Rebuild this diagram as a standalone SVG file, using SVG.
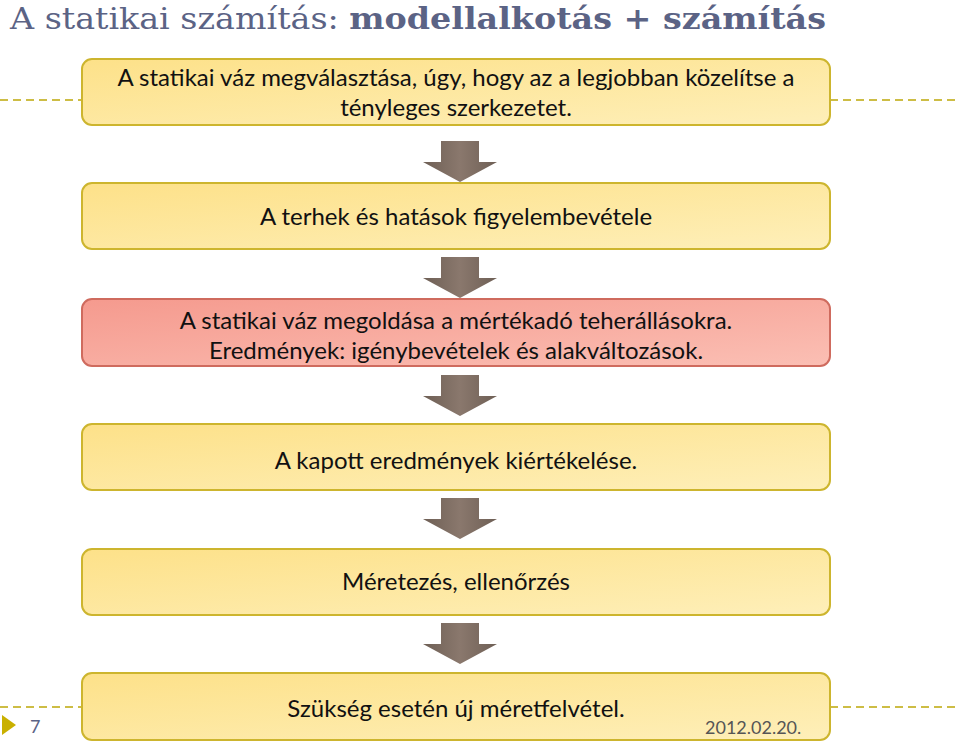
<svg xmlns="http://www.w3.org/2000/svg" width="960" height="744" viewBox="0 0 960 744">
<defs>
<linearGradient id="gy" x1="0" y1="0" x2="1" y2="1">
<stop offset="0" stop-color="#fde189"/>
<stop offset="1" stop-color="#feefb9"/>
</linearGradient>
<linearGradient id="gr" x1="0" y1="0" x2="1" y2="1">
<stop offset="0" stop-color="#f59a8e"/>
<stop offset="1" stop-color="#fbbfb4"/>
</linearGradient>
<linearGradient id="ga" x1="0" y1="0" x2="1" y2="0">
<stop offset="0" stop-color="#6e5f55"/>
<stop offset="0.5" stop-color="#8a786d"/>
<stop offset="1" stop-color="#6e5f55"/>
</linearGradient>
<path id="arrow" d="M-19,0 H19 V21 H37 L0,41 L-37,21 H-19 Z"/>
</defs>
<style>
.yb{fill:url(#gy);stroke:#cdb52e;stroke-width:2}
.rb{fill:url(#gr);stroke:#cf6b5e;stroke-width:2}
.t{font-family:"Gill Sans","Lato","Open Sans","Liberation Sans",sans-serif;font-size:24px;fill:#111;text-anchor:middle}
.dash{stroke:#cdbd45;stroke-width:2;stroke-dasharray:8 5;fill:none}
.ar{fill:url(#ga)}
</style>
<rect width="960" height="744" fill="#fff"/>
<text x="10" y="29" font-family="'DejaVu Serif','Liberation Serif',serif" font-size="29" fill="#5b6385" textLength="816" lengthAdjust="spacingAndGlyphs">A statikai számítás: <tspan font-weight="bold">modellalkotás + számítás</tspan></text>
<g id="dashes">
<path class="dash" d="M0,100 H82 M830,100 H960 M0,707 H82 M830,707 H960"/>
</g>
<g id="connectors">
<use class="ar" href="#arrow" x="460" y="141"/>
<use class="ar" href="#arrow" x="460" y="257"/>
<use class="ar" href="#arrow" x="460" y="375"/>
<use class="ar" href="#arrow" x="460" y="498"/>
<use class="ar" href="#arrow" x="460" y="623"/>
</g>
<g id="n1">
<rect class="yb" x="82" y="59" width="748" height="66" rx="10"/>
<text class="t" x="456" y="86">A statikai váz megválasztása, úgy, hogy az a legjobban közelítse a</text>
<text class="t" x="456" y="116">tényleges szerkezetet.</text>
</g>
<g id="n2">
<rect class="yb" x="82" y="183" width="748" height="66" rx="10"/>
<text class="t" x="456" y="225">A terhek és hatások figyelembevétele</text>
</g>
<g id="n3">
<rect class="rb" x="82" y="299" width="748" height="67" rx="10"/>
<text class="t" x="456" y="329">A statikai váz megoldása a mértékadó teherállásokra.</text>
<text class="t" x="456" y="359">Eredmények: igénybevételek és alakváltozások.</text>
</g>
<g id="n4">
<rect class="yb" x="82" y="424" width="748" height="66" rx="10"/>
<text class="t" x="456" y="469">A kapott eredmények kiértékelése.</text>
</g>
<g id="n5">
<rect class="yb" x="82" y="549" width="748" height="66" rx="10"/>
<text class="t" x="456" y="590">Méretezés, ellenőrzés</text>
</g>
<g id="n6">
<rect class="yb" x="82" y="673" width="748" height="67" rx="10"/>
<text class="t" x="456" y="717">Szükség esetén új méretfelvétel.</text>
</g>
<g id="footer">
<path d="M2,715 L16,725 L2,735 Z" fill="#c9b000"/>
<text x="30" y="733" font-family="'Gill Sans','Lato','Liberation Sans',sans-serif" font-size="18" fill="#5b6385">7</text>
<text x="705" y="734" font-family="'Gill Sans','Lato','Liberation Sans',sans-serif" font-size="18" fill="#555">2012.02.20.</text>
</g>
</svg>
